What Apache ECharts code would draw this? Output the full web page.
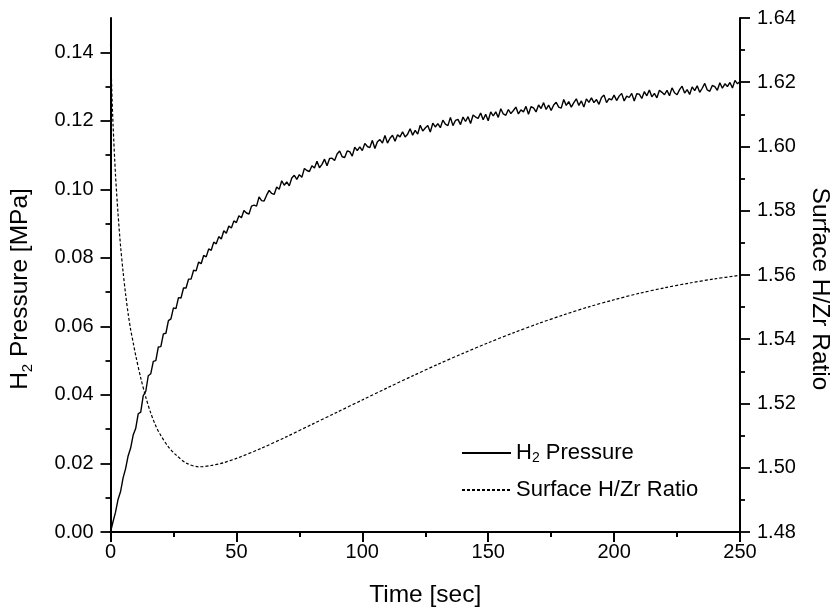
<!DOCTYPE html>
<html>
<head>
<meta charset="utf-8">
<script src="https://cdn.jsdelivr.net/npm/echarts@6/dist/echarts.min.js"></script>
<style>
html,body{margin:0;padding:0;background:#fff;}
#chart{width:840px;height:613px;}
</style>
</head>
<body>
<div id="chart"></div>
<script>
// ---- data ----
// H2 pressure sampled once per second, t = 0 ... 250 s
var pressureStartTime = 0;
var pressureStepTime = 1;
var pressureValues = [
0.0000,0.0030,0.0058,0.0095,0.0118,0.0158,0.0185,0.0222,0.0245,0.0283,
0.0302,0.0345,0.0350,0.0398,0.0410,0.0456,0.0462,0.0498,0.0500,0.0540,
0.0541,0.0578,0.0580,0.0617,0.0622,0.0654,0.0652,0.0684,0.0683,0.0712,
0.0712,0.0738,0.0738,0.0764,0.0762,0.0788,0.0783,0.0807,0.0803,0.0826,
0.0822,0.0846,0.0841,0.0862,0.0855,0.0879,0.0872,0.0893,0.0887,0.0908,
0.0903,
0.0923,0.0917,0.0938,0.0931,0.0928,0.0951,0.0954,0.0951,0.0978,0.0967,
0.0966,0.0983,0.0997,0.0988,0.0985,0.1007,0.1000,0.1025,0.1012,0.1022,
0.1010,0.1033,0.1041,0.1029,0.1043,0.1035,0.1061,0.1055,0.1052,0.1069,
0.1062,0.1082,0.1063,0.1073,0.1088,0.1069,0.1090,0.1091,0.1084,0.1103,
0.1112,0.1095,0.1093,0.1112,0.1110,0.1097,0.1123,0.1113,0.1124,0.1113,
0.1134,0.1125,0.1122,0.1143,0.1119,0.1139,0.1145,0.1135,0.1157,0.1135,
0.1149,0.1158,0.1140,0.1159,0.1153,0.1168,0.1153,0.1161,0.1177,0.1158,
0.1172,0.1161,0.1187,0.1170,0.1179,0.1186,0.1167,0.1193,0.1182,0.1192,
0.1180,0.1202,0.1190,0.1186,0.1210,0.1186,0.1201,0.1204,0.1189,0.1211,
0.1198,0.1212,0.1192,0.1217,0.1211,0.1207,0.1223,0.1203,0.1219,0.1200,
0.1226,0.1214,0.1226,0.1210,0.1235,0.1220,0.1216,0.1233,0.1221,0.1230,
0.1240,0.1220,0.1232,0.1226,0.1242,0.1219,0.1241,0.1238,0.1226,0.1246,
0.1236,0.1253,0.1233,0.1246,0.1230,0.1246,0.1254,0.1240,0.1237,0.1262,
0.1245,0.1256,0.1240,0.1253,0.1264,0.1245,0.1258,0.1240,0.1264,0.1254,
0.1267,0.1253,0.1262,0.1248,0.1268,0.1275,0.1253,0.1265,0.1261,0.1275,
0.1259,0.1272,0.1280,0.1258,0.1272,0.1268,0.1280,0.1258,0.1279,0.1278,
0.1265,0.1285,0.1273,0.1290,0.1270,0.1280,0.1267,0.1289,0.1283,0.1276,
0.1289,0.1273,0.1296,0.1282,0.1276,0.1291,0.1301,0.1281,0.1291,0.1277,
0.1299,0.1288,0.1302,0.1283,0.1295,0.1309,0.1290,0.1286,0.1303,0.1300,
0.1289,0.1311,0.1295,0.1308,0.1300,0.1312,0.1296,0.1318,0.1308,0.1315
];

var ratioTime = [0,0.5,1,2,3,4,5,6,7,8,9,10,12,14,16,18,20,23,26,30,35,40,45,50,60,70,80,90,100,110,120,130,140,150,160,170,180,190,200,210,220,230,240,250];
var ratioValues = [1.632,1.618,1.607,1.591,1.579,1.569,1.561,1.554,1.548,1.543,1.539,1.535,1.528,1.522,1.517,1.513,1.510,1.5065,1.504,1.5015,1.5003,1.5007,1.5016,1.5029,1.5061,1.5097,1.5135,1.5173,1.5211,1.5249,1.5286,1.5322,1.5356,1.5389,1.5420,1.5449,1.5476,1.5501,1.5523,1.5543,1.5560,1.5575,1.5588,1.5599];

var xTicks = [0,50,100,150,200,250];
var leftMajorTicks = [0,0.02,0.04,0.06,0.08,0.10,0.12,0.14];
var leftMinorTicks = [0.01,0.03,0.05,0.07,0.09,0.11,0.13];
var rightTicks = [1.48,1.50,1.52,1.54,1.56,1.58,1.60,1.62,1.64];

var seriesNames = ['H2 Pressure','Surface H/Zr Ratio'];

// ---- chart ----
var FONT = 'Liberation Sans, Arial, Helvetica, sans-serif';
var chart = echarts.init(document.getElementById('chart'), null, {renderer:'canvas'});

var pressureData = pressureValues.map(function(v,i){ return [pressureStartTime + i*pressureStepTime, v]; });
var ratioData = ratioTime.map(function(t,i){ return [t, ratioValues[i]]; });

var axisLine = {show:true, lineStyle:{color:'#000', width:2}};
var tickStyle = {color:'#000', width:1.8};
var TICK_FS = 20, TITLE_FS = 24.5;

var option = {
  backgroundColor:'#fff',
  animation:false,
  grid:{left:110,right:94,top:18,bottom:80,containLabel:false},
  legend:{
    orient:'vertical',
    left:461, top:441, padding:0,
    itemWidth:49, itemHeight:14, itemGap:13,
    itemStyle:{opacity:0},
    textStyle:{fontFamily:FONT,fontSize:22,color:'#000',lineHeight:24,
      rich:{sub:{fontFamily:FONT,fontSize:14,lineHeight:24,verticalAlign:'bottom',padding:[10,0,0,0]}}},
    formatter:function(n){ return n==='H2 Pressure' ? 'H{sub|2} Pressure' : n; },
    data:seriesNames
  },
  xAxis:[
    {type:'value',position:'bottom',min:xTicks[0],max:xTicks[xTicks.length-1],interval:50,
     axisLine:axisLine,
     axisTick:{show:true,inside:false,length:10,lineStyle:tickStyle},
     minorTick:{show:true,splitNumber:2,length:5,lineStyle:tickStyle},
     splitLine:{show:false},
     axisLabel:{fontFamily:FONT,fontSize:TICK_FS,color:'#000',margin:10},
     name:'Time [sec]',nameLocation:'middle',nameGap:51,
     nameTextStyle:{fontFamily:FONT,fontSize:TITLE_FS,color:'#000'}},
    {type:'value',position:'top',min:xTicks[0],max:xTicks[xTicks.length-1],interval:50,
     axisLine:axisLine,
     axisTick:{show:true,inside:true,length:10,lineStyle:tickStyle},
     minorTick:{show:true,splitNumber:2,length:5,lineStyle:tickStyle},
     splitLine:{show:false},axisLabel:{show:false}}
  ],
  yAxis:[
    {type:'value',position:'left',min:0,max:0.15,
     axisLine:axisLine,
     axisTick:{show:true,inside:false,length:10,customValues:leftMajorTicks,lineStyle:tickStyle},
     splitLine:{show:false},
     axisLabel:{customValues:leftMajorTicks,fontFamily:FONT,fontSize:TICK_FS,color:'#000',margin:17,
       formatter:function(v){return v.toFixed(2);}},
     name:'H{sub|2} Pressure [MPa]',nameLocation:'middle',nameGap:75,nameRotate:90,
     nameTextStyle:{fontFamily:FONT,fontSize:TITLE_FS,color:'#000',padding:[0,28,0,0],
       rich:{sub:{fontFamily:FONT,fontSize:15,verticalAlign:'bottom',padding:[15,0,0,0]}}}},
    {type:'value',position:'left',min:0,max:0.15,
     axisLine:{show:false},
     axisTick:{show:true,inside:false,length:5,customValues:leftMinorTicks,lineStyle:tickStyle},
     splitLine:{show:false},axisLabel:{show:false}},
    {type:'value',position:'right',min:rightTicks[0],max:rightTicks[rightTicks.length-1],interval:0.02,
     axisLine:axisLine,
     axisTick:{show:true,inside:false,length:10,lineStyle:tickStyle},
     minorTick:{show:true,splitNumber:2,length:5,lineStyle:tickStyle},
     splitLine:{show:false},
     axisLabel:{fontFamily:FONT,fontSize:TICK_FS,color:'#000',margin:17,
       formatter:function(v){return v.toFixed(2);}},
     name:'Surface H/Zr Ratio',nameLocation:'middle',nameGap:67,nameRotate:-90,
     nameTextStyle:{fontFamily:FONT,fontSize:TITLE_FS,color:'#000',padding:[0,0,0,28]}}
  ],
  series:[
    {name:seriesNames[0],type:'line',xAxisIndex:0,yAxisIndex:0,showSymbol:false,symbol:'none',
     data:pressureData,
     lineStyle:{color:'#000',width:1.4},itemStyle:{color:'#000'}},
    {name:seriesNames[1],type:'line',xAxisIndex:0,yAxisIndex:2,showSymbol:false,symbol:'none',smooth:0.3,
     data:ratioData,
     lineStyle:{color:'#000',width:1.2,type:[3,2]},itemStyle:{color:'#000'}}
  ]
};
chart.setOption(option);
</script>
</body>
</html>
